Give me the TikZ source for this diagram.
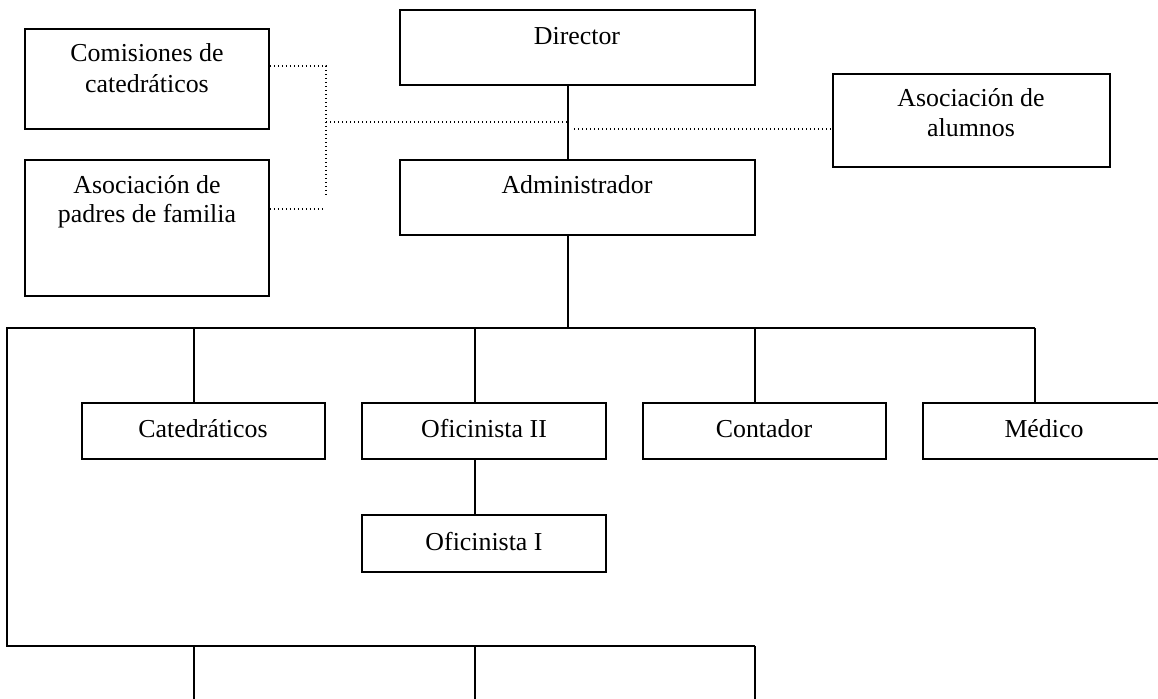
\documentclass[tikz,border=0pt]{standalone}
\usepackage{fontspec}
\setmainfont{Liberation Serif}
\usetikzlibrary{fit}

\tikzset{
  unitbox/.style={draw=black, line width=1.2pt, inner sep=0pt, fill=none},
  lbl/.style={inner sep=0pt, anchor=base, font=\fontsize{19.4}{22.5}\selectfont},
  wire/.style={draw=black, line width=0.95pt},
  dotline/.style={draw=black, line width=0.9pt, dash pattern=on 0.9pt off 2.1pt},
}

\begin{document}
\begin{tikzpicture}[x=0.75pt, y=-0.75pt]
  % page frame
  \clip (0,0) rectangle (1158,699);
  \fill[white] (0,0) rectangle (1158,699);

  % upper boxes
  \node[unitbox, fit={(400,10)(755,85)}]   (dir) {};
  \node[unitbox, fit={(400,160)(755,235)}] (adm) {};
  \node[unitbox, fit={(25,29)(269,129)}]   (com) {};
  \node[unitbox, fit={(25,160)(269,296)}]  (pad) {};
  \node[unitbox, fit={(833,74)(1110,167)}] (alu) {};

  % lower boxes
  \node[unitbox, fit={(82,403)(325,459)}]   (cat) {};
  \node[unitbox, fit={(362,403)(606,459)}]  (ofb) {};
  \node[unitbox, fit={(643,403)(886,459)}]  (con) {};
  \node[unitbox, fit={(923,403)(1165,459)}] (med) {};
  \node[unitbox, fit={(362,515)(606,572)}]  (ofa) {};

  % labels
  \node[lbl] (dirT)  at (577,45)  {Director};
  \node[lbl] (admT)  at (577,193) {Administrador};
  \node[lbl] (comT1) at (147,62)  {Comisiones de};
  \node[lbl] (comT2) at (147,93)  {catedráticos};
  \node[lbl] (padT1) at (147,193) {Asociación de};
  \node[lbl] (padT2) at (147,223) {padres de familia};
  \node[lbl] (aluT1) at (971,107) {Asociación de};
  \node[lbl] (aluT2) at (971,137) {alumnos};
  \node[lbl] (catT)  at (203,437) {Catedráticos};
  \node[lbl] (ofbT)  at (484,437) {Oficinista II};
  \node[lbl] (conT)  at (764,437) {Contador};
  \node[lbl] (medT)  at (1044,437) {Médico};
  \node[lbl] (ofaT)  at (484,550) {Oficinista I};

  % junction points
  \coordinate (spine) at (568,122);
  \coordinate (jTop)  at (326,66);
  \coordinate (jMid)  at (326,122);
  \coordinate (jBot)  at (326,195);
  \coordinate (jPad)  at (325,209);
  \coordinate (rDot)  at (574,129);
  \coordinate (busTop) at (568,328);
  \coordinate (busL)   at (7,328);
  \coordinate (busR)   at (1035,328);
  \coordinate (lowL)   at (7,646);
  \coordinate (lowR)   at (755,646);
  \coordinate (dropA)  at (194,646);
  \coordinate (dropB)  at (475,646);
  \coordinate (endA)   at (194,699);
  \coordinate (endB)   at (475,699);
  \coordinate (endC)   at (755,699);

  % advisory (dotted) links
  \draw[dotline] (com.east |- jTop) -- (jTop) -- (jBot);
  \draw[dotline] (jMid) -- (spine);
  \draw[dotline] (pad.east |- jPad) -- (jPad);
  \draw[dotline] (rDot) -- (alu.west |- rDot);

  % line of authority
  \draw[wire] (dir.south -| spine) -- (adm.north -| spine);
  \draw[wire] (adm.south -| spine) -- (busTop);
  \draw[wire] (busR) -- (busL) -- (lowL) -- (lowR);
  \draw[wire] (194,328) -- (cat.north -| 194,0);
  \draw[wire] (475,328) -- (ofb.north -| 475,0);
  \draw[wire] (755,328) -- (con.north -| 755,0);
  \draw[wire] (busR) -- (med.north -| busR);
  \draw[wire] (ofb.south -| 475,0) -- (ofa.north -| 475,0);
  \draw[wire] (dropA) -- (endA);
  \draw[wire] (dropB) -- (endB);
  \draw[wire] (lowR) -- (endC);
\end{tikzpicture}
\end{document}
